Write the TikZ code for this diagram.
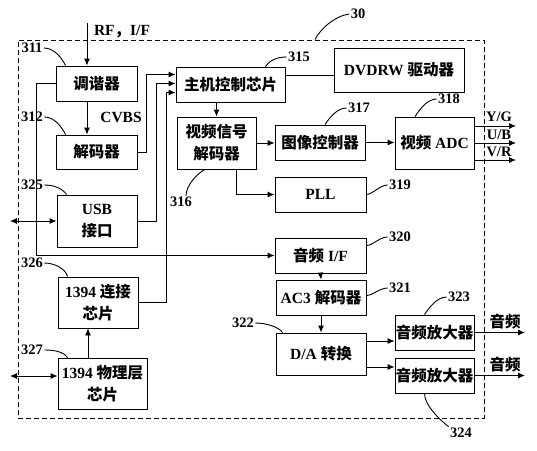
\documentclass[tikz,border=0pt]{standalone}
\usepackage{fontspec}
\setmainfont{Liberation Serif}
\newfontfamily\zh{Noto Sans CJK SC}
\usetikzlibrary{arrows.meta}

\tikzset{
  blk/.style={draw, rectangle, inner sep=0pt, align=center},
  num/.style={inner sep=1pt, font=\fontsize{14.5}{17}\selectfont\bfseries},
}

\begin{document}
\begin{tikzpicture}[x=1pt, y=-1pt, line width=0.9pt, >={Latex[length=7pt,width=6pt]},
    font=\fontsize{15.5}{22}\selectfont\bfseries]
\useasboundingbox (0,0) rectangle (537,450);

% outer frame
\draw (251,229) node [draw, dash pattern=on 5pt off 3pt, minimum width=466pt, minimum height=378pt] (sys) {};

% left column
\draw (96.5,83.5) node [blk, minimum width=81pt, minimum height=35pt] (tuner) {\zh 调谐器};
\draw (96.5,152) node [blk, minimum width=81pt, minimum height=34pt] (cvbsdec) {\zh 解码器};
\draw (97,221) node [blk, minimum width=80pt, minimum height=52pt] (usb) {USB\\{\zh 接口}};
\draw (98,302.5) node [blk, minimum width=80pt, minimum height=51pt] (lnk) {1394 {\zh 连接}\\{\zh 芯片}};
\draw (102.5,383.5) node [blk, minimum width=89pt, minimum height=51pt] (phy) {1394 {\zh 物理层}\\{\zh 芯片}};

% middle and right
\draw (230.5,84.5) node [blk, minimum width=109pt, minimum height=35pt] (host) {\zh 主机控制芯片};
\draw (399,70) node [blk, minimum width=130pt, minimum height=44pt] (dvd) {DVDRW {\zh 驱动器}};
\draw (216.5,143) node [blk, minimum width=79pt, minimum height=52pt] (vdec) {\zh 视频信号\\\zh 解码器};
\draw (320,142.5) node [blk, minimum width=90pt, minimum height=35pt] (imgctl) {\zh 图像控制器};
\draw (434.5,143) node [blk, minimum width=79pt, minimum height=52pt] (adc) {{\zh 视频} ADC};
\draw (320.5,194.5) node [blk, minimum width=91pt, minimum height=35pt] (pll) {PLL};
\draw (320.5,255.5) node [blk, minimum width=91pt, minimum height=35pt] (aif) {{\zh 音频} I/F};
\draw (321,297.5) node [blk, minimum width=90pt, minimum height=35pt] (ac3) {AC3 {\zh 解码器}};
\draw (321,354) node [blk, minimum width=90pt, minimum height=42pt] (da) {D/A {\zh 转换}};
\draw (434.5,332.5) node [blk, minimum width=79pt, minimum height=35pt] (amp1) {\zh 音频放大器};
\draw (434.5,375.5) node [blk, minimum width=79pt, minimum height=35pt] (amp2) {\zh 音频放大器};

% free ends
\coordinate (rfin) at (87,23);
\coordinate (usbext) at (10,221);
\coordinate (phyext) at (10,376);
\coordinate (yout) at (516,126);
\coordinate (uout) at (516,143);
\coordinate (vout) at (516,160);
\coordinate (aout1) at (525,332.5);
\coordinate (aout2) at (525,375.5);

% signal texts
\draw (122,32) node (rftxt) {RF{\zh ，}I/F};
\draw (121,117) node (cvbstxt) {CVBS};
\draw (499,117) node [num] (ytxt) {Y/G};
\draw (499,135) node [num] (utxt) {U/B};
\draw (499,152) node [num] (vtxt) {V/R};
\draw (505,322) node [inner sep=1pt] (atxt1) {\zh 音频};
\draw (505,365) node [inner sep=1pt] (atxt2) {\zh 音频};

% connectors
\draw[->] (rfin) -- (rfin |- tuner.north);
\draw[->] ([xshift=-9.5pt]tuner.south) -- ([xshift=-9.5pt]tuner.south |- cvbsdec.north);
\draw[->] (tuner.west) -- ++(-19,0) |- (aif.west);
\draw[->] (cvbsdec.east) -- (146,152) |- ([yshift=10pt]host.west);
\draw[->] (usb.east) -- (156,221) |- ([yshift=1pt]host.west);
\draw[->] (lnk.east) -- (166,302.5) |- ([yshift=-8pt]host.west);
\draw[<->] (usbext) -- (usb.west);
\draw[<->] (phyext) -- (phyext -| phy.west);
\draw[->] ([xshift=-14.5pt]phy.north) -- ([xshift=-14.5pt]phy.north |- lnk.south);
\draw ([yshift=9pt]host.east) -- ([yshift=9pt]host.east -| dvd.west);
\draw[->] (vdec.north |- host.south) -- (vdec.north);
\draw[->] (vdec.east) -- (vdec.east -| imgctl.west);
\draw[->] ([xshift=19.5pt]vdec.south) |- (pll.west);
\draw[->] (imgctl.east) -- (imgctl.east -| adc.west);
\draw[->] ([yshift=17pt]adc.east) -- (yout);
\draw[->] (adc.east) -- (uout);
\draw[->] ([yshift=-17pt]adc.east) -- (vout);
\draw[->] (aif.south) -- (ac3.north);
\draw[->] (ac3.south) -- (da.north);
\draw[->] ([yshift=13pt]da.east) -- ([yshift=13pt]da.east -| amp1.west);
\draw[->] ([yshift=-13pt]da.east) -- ([yshift=-13pt]da.east -| amp2.west);
\draw[->] (amp1.east) -- (aout1);
\draw[->] (amp2.east) -- (aout2);

% reference numerals
\draw (358,14) node [num] (n30) {30};
\draw (32,48) node [num] (n311) {311};
\draw (32,117) node [num] (n312) {312};
\draw (32,185) node [num] (n325) {325};
\draw (32,263) node [num] (n326) {326};
\draw (32,350) node [num] (n327) {327};
\draw (299,57) node [num] (n315) {315};
\draw (181,202) node [num] (n316) {316};
\draw (359,108) node [num] (n317) {317};
\draw (449,99) node [num] (n318) {318};
\draw (400,185) node [num] (n319) {319};
\draw (400,237) node [num] (n320) {320};
\draw (400,288) node [num] (n321) {321};
\draw (243,323) node [num] (n322) {322};
\draw (459,297) node [num] (n323) {323};
\draw (461,433) node [num] (n324) {324};

\draw (n30.west) .. controls +(-15,2) and +(5,-10) .. ([xshift=64pt]sys.north);
\draw (n311.east) .. controls +(10,0) and +(-4,-8) .. ([xshift=10pt]tuner.north west);
\draw (n312.east) .. controls +(10,0) and +(-4,-8) .. ([xshift=10pt]cvbsdec.north west);
\draw (n325.east) .. controls +(10,0) and +(-4,-6) .. ([xshift=10pt]usb.north west);
\draw (n326.east) .. controls +(10,0) and +(-2,-8) .. ([xshift=10pt]lnk.north west);
\draw (n327.east) .. controls +(10,0) and +(-4,-6) .. ([xshift=10pt]phy.north west);
\draw (n315.west) .. controls +(-10,0) and +(4,-6) .. ([xshift=-20pt]host.north east);
\draw ([xshift=5pt]n316.north) .. controls +(0,-10) and +(-8,4) .. ([xshift=-11.5pt]vdec.south);
\draw (n317.west) .. controls +(-10,0) and +(4,-6) .. ([xshift=5pt]imgctl.north);
\draw (n318.west) .. controls +(-10,0) and +(4,-6) .. ([xshift=-19.5pt]adc.north);
\draw (n319.west) .. controls +(-8,0) and +(6,0) .. (pll.east);
\draw (n320.west) .. controls +(-8,0) and +(6,0) .. ([yshift=10pt]aif.east);
\draw (n321.west) .. controls +(-8,0) and +(6,0) .. ([yshift=2pt]ac3.east);
\draw (n322.east) .. controls +(10,0) and +(-4,-6) .. ([xshift=7pt]da.north west);
\draw (n323.west) .. controls +(-10,0) and +(4,-6) .. ([xshift=-10pt]amp1.north);
\draw (n324.north west) .. controls +(-8,-6) and +(0,12) .. ([xshift=-10pt]amp2.south);
\end{tikzpicture}
\end{document}
